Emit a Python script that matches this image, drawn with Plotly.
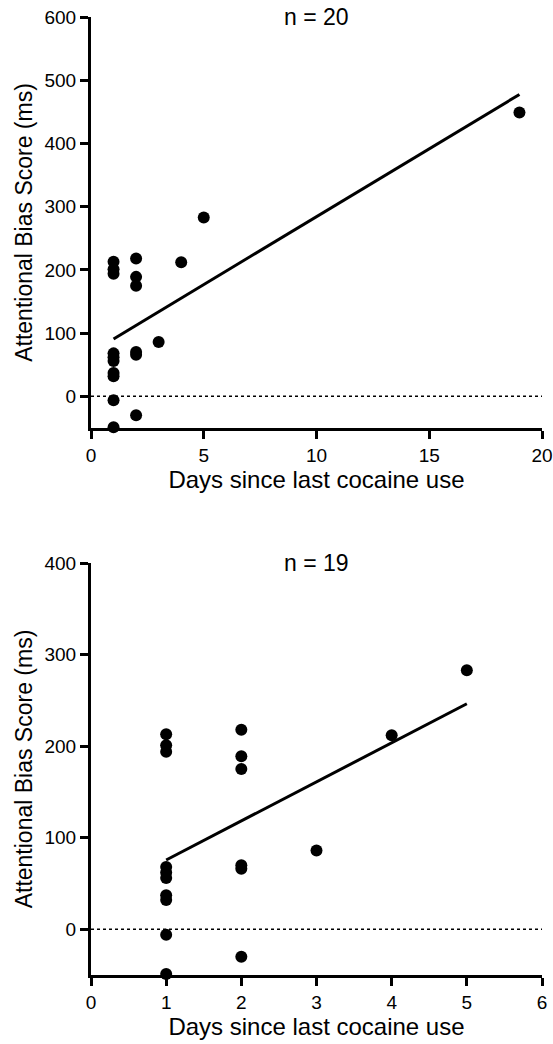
import numpy as np
import plotly.graph_objects as go
from plotly.subplots import make_subplots

# Data
days_all = [1, 1, 1, 1, 1, 1, 1, 1, 1, 1,
            2, 2, 2, 2, 2, 2,
            3, 4, 5, 19]
abs_all = [213, 201, 194, 68, 62, 56, 37, 32, -6, -49,
           218, 189, 175, 70, 66, -30,
           86, 212, 283, 449]

days_sub = days_all[:-1]
abs_sub = abs_all[:-1]

titles = ["n = 20", "n = 19"]
x_ticks_top = [0, 5, 10, 15, 20]
y_ticks_top = [0, 100, 200, 300, 400, 500, 600]
x_ticks_bot = [0, 1, 2, 3, 4, 5, 6]
y_ticks_bot = [0, 100, 200, 300, 400]

FONT = "Arial, 'Liberation Sans', Helvetica, sans-serif"

fig = make_subplots(rows=2, cols=1, vertical_spacing=0.141)

def add_panel(row, xs, ys):
    slope, intercept = np.polyfit(xs, ys, 1)
    xfit = np.array([min(xs), max(xs)])
    yfit = slope * xfit + intercept
    fig.add_trace(go.Scatter(x=xfit, y=yfit, mode="lines",
                             line=dict(color="black", width=3),
                             showlegend=False, hoverinfo="skip"), row=row, col=1)
    fig.add_trace(go.Scatter(x=xs, y=ys, mode="markers",
                             marker=dict(color="black", size=12),
                             cliponaxis=False, showlegend=False), row=row, col=1)
    fig.add_hline(y=0, line=dict(color="black", width=1.5, dash="dot"), row=row, col=1)

add_panel(1, days_all, abs_all)
add_panel(2, days_sub, abs_sub)

axis_common = dict(showline=True, linecolor="black", linewidth=3,
                   ticks="outside", ticklen=8, tickwidth=3, tickcolor="black",
                   showgrid=False, zeroline=False, automargin=False,
                   tickfont=dict(family=FONT, size=19, color="black"))

xt = dict(text="Days since last cocaine use",
          font=dict(family=FONT, size=24, color="black"), standoff=6)
yt = dict(text="Attentional Bias Score (ms)",
          font=dict(family=FONT, size=23, color="black"), standoff=6)

fig.update_xaxes(range=[0, 20], tickvals=x_ticks_top, row=1, col=1, title=xt, **axis_common)
fig.update_yaxes(range=[-50, 600], tickvals=y_ticks_top, row=1, col=1, title=yt, **axis_common)
fig.update_xaxes(range=[0, 6], tickvals=x_ticks_bot, row=2, col=1, title=xt, **axis_common)
fig.update_yaxes(range=[-50, 400], tickvals=y_ticks_bot, row=2, col=1, title=yt, **axis_common)

fig.update_layout(
    width=553, height=1044,
    margin=dict(l=91, r=11, t=17, b=69, autoexpand=False),
    paper_bgcolor="white", plot_bgcolor="white",
    font=dict(family=FONT, color="black"),
)
fig.update_layout(yaxis=dict(domain=[0.571, 1.0]), yaxis2=dict(domain=[0.0, 0.430]))

for i, t in enumerate(titles):
    yref = "y domain" if i == 0 else "y2 domain"
    xref = "x domain" if i == 0 else "x2 domain"
    fig.add_annotation(text=t, xref=xref, yref=yref, x=0.5, y=1.0,
                       xanchor="center", yanchor="middle", showarrow=False,
                       font=dict(family=FONT, size=23, color="black"))

fig.write_html("out.html", config={"displayModeBar": False},
               post_script="document.body.style.margin='0';document.body.style.overflow='hidden';")
